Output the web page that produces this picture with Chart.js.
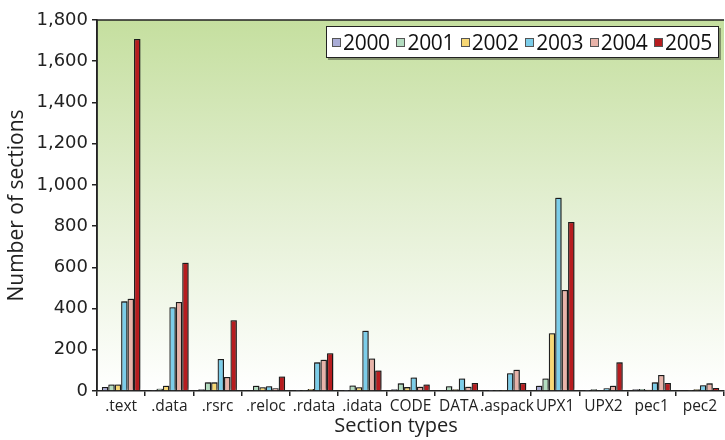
<!DOCTYPE html>
<html lang="en">
<head>
  <meta charset="UTF-8" />
  <title>Number of sections by type</title>
  <script src="https://cdn.jsdelivr.net/npm/chart.js"></script>
  <style>
    html, body { margin: 0; padding: 0; background: #fff; }
    #wrap { position: relative; width: 725px; height: 440px; }
    #legend {
      position: absolute; left: 326px; top: 26px; width: 393px; height: 32px;
      background: #fff; border: 1px solid #222; box-shadow: 2px 2px 0 rgba(0,0,0,0.35);
      display: flex; align-items: center; justify-content: space-between;
      font-family: 'Open Sans', sans-serif; font-size: 21px; color: #111;
      box-sizing: border-box; padding: 0 6px 0 5px; letter-spacing: -0.3px;
    }
    #legend span.item { display: flex; align-items: center; }
    #legend i { display: inline-block; width: 7px; height: 7px; border: 1px solid #555; margin-right: 2px; }
  </style>
</head>
<body>
  <div id="wrap">
    <canvas id="chart" width="725" height="440"></canvas>
    <div id="legend"></div>
  </div>

  <script>
    const sections = [".text", ".data", ".rsrc", ".reloc", ".rdata", ".idata", "CODE", "DATA", ".aspack", "UPX1", "UPX2", "pec1", "pec2"];
    const years = ["2000", "2001", "2002", "2003", "2004", "2005"];
    const colors = ["#a9acd6", "#b3dcc0", "#f7d774", "#7ccde9", "#e8b3a9", "#b71c1f"];

    const y2000 = [20, 2, 8, 3, 1, 1, 8, 3, 1, 26, 1, 8, 3];
    const y2001 = [32, 11, 42, 26, 5, 27, 37, 23, 5, 61, 8, 10, 2];
    const y2002 = [32, 26, 42, 18, 10, 18, 19, 8, 2, 280, 3, 6, 8];
    const y2003 = [435, 406, 155, 23, 139, 292, 66, 61, 86, 938, 13, 42, 28];
    const y2004 = [448, 432, 68, 13, 152, 158, 21, 21, 103, 490, 26, 78, 37];
    const y2005 = [1708, 622, 343, 70, 183, 100, 32, 39, 39, 820, 139, 39, 15];
    const series = [y2000, y2001, y2002, y2003, y2004, y2005];

    const yTicks = [0, 200, 400, 600, 800, 1000, 1200, 1400, 1600, 1800];
    const xTitle = "Section types";

    const FONT = "'Open Sans', sans-serif";

    // green-to-white plot background and frame
    const plotBg = {
      id: "plotBg",
      beforeDraw(chart) {
        const { ctx, chartArea: a } = chart;
        const g = ctx.createLinearGradient(0, a.top, 0, a.bottom);
        g.addColorStop(0, "#c5df9f");
        g.addColorStop(0.5, "#e3efd2");
        g.addColorStop(1, "#ffffff");
        ctx.save();
        ctx.fillStyle = g;
        ctx.fillRect(a.left, a.top, a.right - a.left, a.bottom - a.top);
        ctx.strokeStyle = "#222";
        ctx.lineWidth = 1.5;
        ctx.beginPath();
        ctx.moveTo(a.left, a.bottom);
        ctx.lineTo(a.left, a.top);
        ctx.lineTo(a.right, a.top);
        ctx.stroke();
        ctx.restore();
      },
      afterDraw(chart) {
        // x axis title sits a little left of the plot centre in the original
        const ctx = chart.ctx;
        ctx.save();
        ctx.font = "20px " + FONT;
        ctx.fillStyle = "#222";
        ctx.textAlign = "center";
        ctx.textBaseline = "middle";
        ctx.fillText(xTitle, 396, 426);
        ctx.restore();
      }
    };

    const barShadow = {
      id: "barShadow",
      beforeDatasetsDraw(chart) {
        const ctx = chart.ctx;
        ctx.save();
        ctx.shadowColor = "rgba(0,0,0,0.45)";
        ctx.shadowBlur = 2;
        ctx.shadowOffsetX = 1;
        ctx.shadowOffsetY = -1;
      },
      afterDatasetsDraw(chart) {
        chart.ctx.restore();
      }
    };

    const chart = new Chart(document.getElementById("chart"), {
      type: "bar",
      data: {
        labels: sections,
        datasets: years.map((yr, i) => ({
          label: yr,
          data: series[i],
          backgroundColor: colors[i],
          borderColor: "#222",
          borderWidth: 1.3,
          barPercentage: 1,
          categoryPercentage: 0.8
        }))
      },
      options: {
        responsive: false,
        animation: false,
        layout: { padding: { top: 20, right: 1, left: 0, bottom: 0 } },
        plugins: { legend: { display: false }, tooltip: { enabled: false } },
        scales: {
          x: {
            afterFit: s => { s.height = 49; },
            border: { display: true, color: "#222", width: 1.5 },
            grid: { display: true, drawOnChartArea: false, color: "#222", tickLength: 5, lineWidth: 1.5 },
            ticks: { color: "#222", font: { family: FONT, size: 15.5 }, padding: 1, maxRotation: 0, autoSkip: false },
            title: { display: false }
          },
          y: {
            min: 0,
            max: 1800,
            afterFit: s => { s.width = 97; },
            afterBuildTicks: s => { s.ticks = yTicks.map(v => ({ value: v })); },
            border: { display: true, color: "#222", width: 1.5 },
            grid: { display: true, drawOnChartArea: false, color: "#222", tickLength: 5, lineWidth: 1.5 },
            ticks: {
              color: "#222", font: { family: "'DejaVu Sans', sans-serif", size: 18 }, padding: 4,
              callback: v => v.toLocaleString("en-US")
            },
            title: { display: true, text: "Number of sections", color: "#222", font: { family: FONT, size: 21 }, padding: { top: 4, bottom: 0 } }
          }
        }
      },
      plugins: [plotBg, barShadow]
    });

    // legend box sits inside the plot, top right
    const legend = document.getElementById("legend");
    years.forEach((yr, i) => {
      const item = document.createElement("span");
      item.className = "item";
      item.innerHTML = `<i style="background:${colors[i]}"></i>${yr}`;
      legend.appendChild(item);
    });
  </script>
</body>
</html>
